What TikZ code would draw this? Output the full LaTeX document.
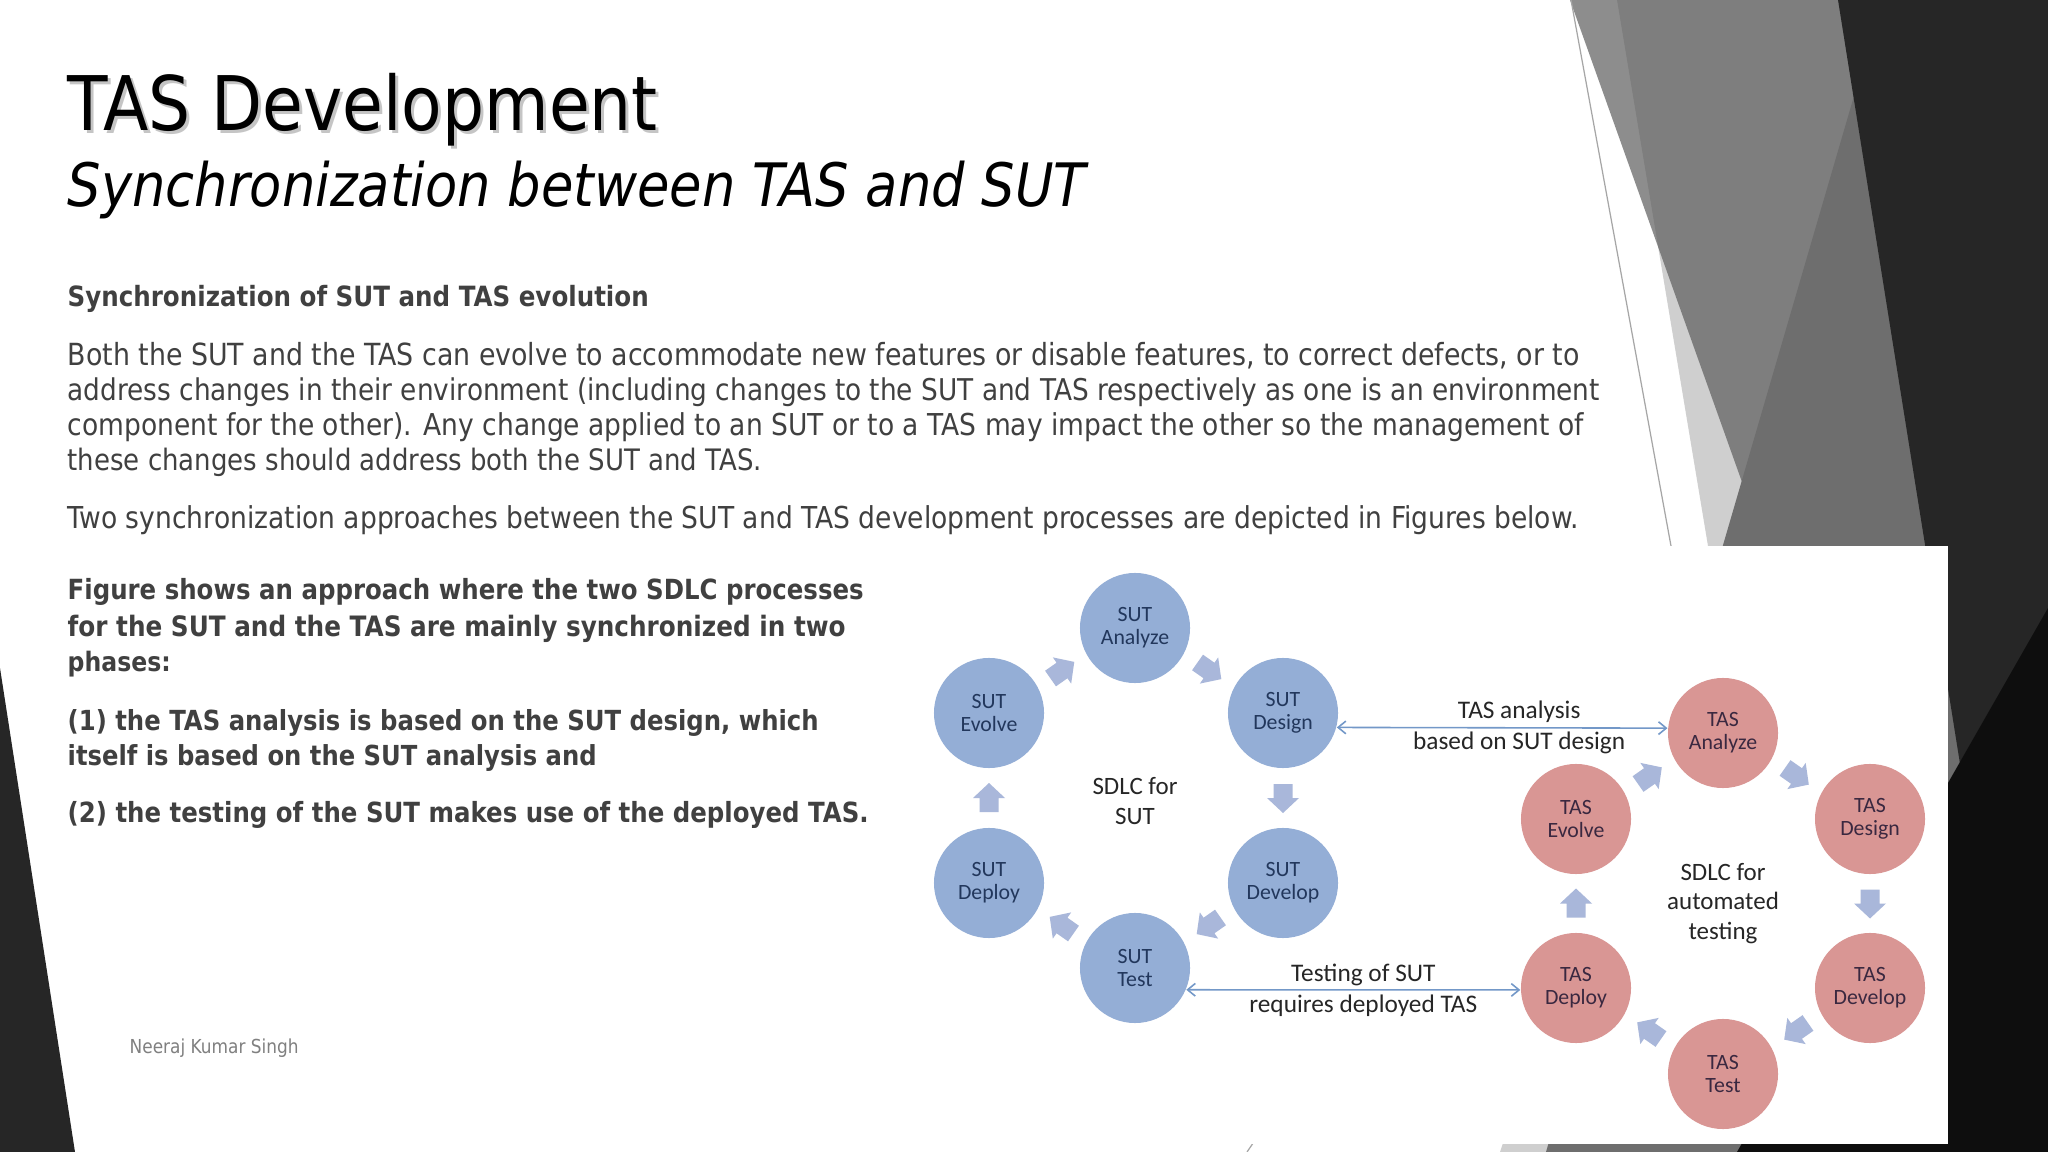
\documentclass[tikz,border=0pt]{standalone}
\usepackage{fontspec}
\setmainfont{DejaVu Sans}[FakeStretch=0.88]
\newfontfamily\diag{Carlito}
\usetikzlibrary{calc,arrows.meta}
\newlength\pxu
\setlength\pxu{0.01cm}
\definecolor{txt}{HTML}{404040}
\definecolor{sutfill}{HTML}{94AED6}
\definecolor{sutblk}{HTML}{A9B7DA}
\definecolor{suttxt}{HTML}{22375C}
\definecolor{tasfill}{HTML}{D99694}
\definecolor{tastxt}{HTML}{3A2840}
\definecolor{conncol}{HTML}{7398C8}
\definecolor{darkk}{HTML}{262626}
\definecolor{blackk}{HTML}{0E0E0E}
\definecolor{lgray}{HTML}{CFCFCF}
\definecolor{dgray}{HTML}{6E6E6E}
\definecolor{mgray}{HTML}{5B5B5B}
\definecolor{lbltxt}{HTML}{262626}
\newcommand{\fitw}[2]{\resizebox{#1\pxu}{!}{#2}}
\tikzset{
  ln/.style={anchor=base west, inner sep=0pt, text=txt, font=\fontsize{7.3pt}{9pt}\selectfont},
  sutc/.style={circle, fill=sutfill, minimum size=1.1cm, inner sep=0pt, align=center, text=suttxt,
     font=\diag\fontsize{6.2pt}{6.6pt}\selectfont},
  tasc/.style={circle, fill=tasfill, minimum size=1.1cm, inner sep=0pt, align=center, text=tastxt,
     font=\diag\fontsize{6.2pt}{6.6pt}\selectfont},
  ctr/.style={align=center, inner sep=0pt, text=lbltxt, font=\diag\fontsize{7.1pt}{8.5pt}\selectfont},
  lbl/.style={align=center, inner sep=0pt, text=lbltxt, font=\diag\fontsize{7.2pt}{8.8pt}\selectfont},
  connline/.style={draw=conncol, line width=0.45pt, {Straight Barb[length=2.2pt,width=3.6pt]}-{Straight Barb[length=2.2pt,width=3.6pt]}},
  barr/.pic={\fill[sutblk] (-14,-9.5) -- (0,-9.5) -- (0,-16) -- (15,0) -- (0,16) -- (0,9.5) -- (-14,9.5) -- cycle;},
}
\begin{document}
\begin{tikzpicture}[x=0.01cm,y=-0.01cm]
\useasboundingbox (0,0) rectangle (2048,1152);
\fill[white] (0,0) rectangle (2048,1152);
% ---- background decoration ----
\fill[darkk] (0,668) -- (75,1152) -- (0,1152) -- cycle;
\fill[lgray] (1617,0) -- (2048,0) -- (2048,1152) -- (1809,1152) -- cycle;
\fill[lgray] (1700,560) -- (1500,1152) -- (1560,1152) -- (1760,560) -- cycle;
\fill[mgray, opacity=0.69] (1570,0) -- (2048,0) -- (2048,1152) -- (1981,1152) -- cycle;
\fill[dgray] (1882,0) -- (2048,0) -- (2048,1152) -- (1546,1152) -- cycle;
\fill[darkk] (1838,0) -- (2048,0) -- (2048,1152) -- (2022,1152) -- cycle;
\fill[blackk] (2048,608) -- (2048,1152) -- (1737,1152) -- cycle;
\draw[gray!70, line width=0.35pt] (1571,0) -- (1671,546);
\draw[gray!70, line width=0.35pt] (1262,1130) -- (1247,1152);
% diagram panel
\fill[white] (905,546) rectangle (1948,1144);
% ---- title ----
\node[ln, text=gray, opacity=0.45] (titlesh) at (70,134) {\fitw{590}{TAS Development}};
\node[ln, text=black] (title) at (67,131) {\fitw{590}{TAS Development}};
\node[ln, text=black] (subtitle) at (67,207) {\fitw{1018}{\itshape Synchronization between TAS and SUT}};
% ---- body text ----
\node[ln] (head) at (67,307) {\fitw{581}{\bfseries Synchronization of SUT and TAS evolution}};
\node[ln] (p1) at (67,366) {\fitw{1512}{Both the SUT and the TAS can evolve to accommodate new features or disable features, to correct defects, or to}};
\node[ln] (p2) at (67,401) {\fitw{1532}{address changes in their environment (including changes to the SUT and TAS respectively as one is an environment}};
\node[ln] (p3) at (67,436) {\fitw{1516}{component for the other). Any change applied to an SUT or to a TAS may impact the other so the management of}};
\node[ln] (p4) at (67,471) {\fitw{694}{these changes should address both the SUT and TAS.}};
\node[ln] (p5) at (67,528) {\fitw{1511}{Two synchronization approaches between the SUT and TAS development processes are depicted in Figures below.}};
\node[ln] (b1) at (67,600) {\fitw{796}{\bfseries Figure shows an approach where the two SDLC processes}};
\node[ln] (b2) at (67,637) {\fitw{778}{\bfseries for the SUT and the TAS are mainly synchronized in two}};
\node[ln] (b3) at (67,672) {\fitw{103}{\bfseries phases:}};
\node[ln] (b4) at (67,730) {\fitw{751}{\bfseries (1) the TAS analysis is based on the SUT design, which}};
\node[ln] (b5) at (67,765) {\fitw{529}{\bfseries itself is based on the SUT analysis and}};
\node[ln] (b6) at (67,822) {\fitw{801}{\bfseries (2) the testing of the SUT makes use of the deployed TAS.}};
\node[ln, text=gray] (author) at (129,1053) {\fitw{169}{Neeraj Kumar Singh}};
% ---- SUT cycle ----
\node[sutc] (sutana) at (1135,628) {SUT\\Analyze};
\node[sutc] (sutevo) at (989,713) {SUT\\Evolve};
\node[sutc] (sutdes) at (1283,713) {SUT\\Design};
\node[sutc] (sutdep) at (989,883) {SUT\\Deploy};
\node[sutc] (sutdev) at (1283,883) {SUT\\Develop};
\node[sutc] (suttest) at (1135,968) {SUT\\Test};
\node[ctr] (sutsdlc) at ($(sutana)!0.5!(suttest)+(0,3)$) {SDLC for\\SUT};
\pic[rotate=35] at ($(sutevo)!0.5!(sutana)$) {barr};
\pic[rotate=-35] at ($(sutana)!0.5!(sutdes)$) {barr};
\pic[rotate=-90] at ($(sutdes)!0.5!(sutdev)$) {barr};
\pic[rotate=215] at ($(sutdev)!0.5!(suttest)$) {barr};
\pic[rotate=145] at ($(suttest)!0.5!(sutdep)$) {barr};
\pic[rotate=90] at ($(sutdep)!0.5!(sutevo)$) {barr};
% ---- TAS cycle ----
\node[tasc] (tasana) at (1723,733) {TAS\\Analyze};
\node[tasc] (tasevo) at (1576,819) {TAS\\Evolve};
\node[tasc] (tasdes) at (1870,819) {TAS\\Design};
\node[tasc] (tasdep) at (1576,988) {TAS\\Deploy};
\node[tasc] (tasdev) at (1870,988) {TAS\\Develop};
\node[tasc] (tastest) at (1723,1074) {TAS\\Test};
\node[ctr] (tassdlc) at ($(tasana)!0.5!(tastest)$) {SDLC for\\automated\\testing};
\pic[rotate=35] at ($(tasevo)!0.5!(tasana)$) {barr};
\pic[rotate=-35] at ($(tasana)!0.5!(tasdes)$) {barr};
\pic[rotate=-90] at ($(tasdes)!0.5!(tasdev)$) {barr};
\pic[rotate=215] at ($(tasdev)!0.5!(tastest)$) {barr};
\pic[rotate=145] at ($(tastest)!0.5!(tasdep)$) {barr};
\pic[rotate=90] at ($(tasdep)!0.5!(tasevo)$) {barr};
% ---- synchronization connectors ----
\draw[connline] (sutdes.-15) -- node[lbl, xshift=0.17cm] (lblup) {TAS analysis\\based on SUT design} (tasana.175);
\draw[connline] (suttest.-23) -- node[lbl, xshift=0.1cm] (lbldown) {Testing of SUT\\requires deployed TAS} (tasdep.182);
\end{tikzpicture}
\end{document}
